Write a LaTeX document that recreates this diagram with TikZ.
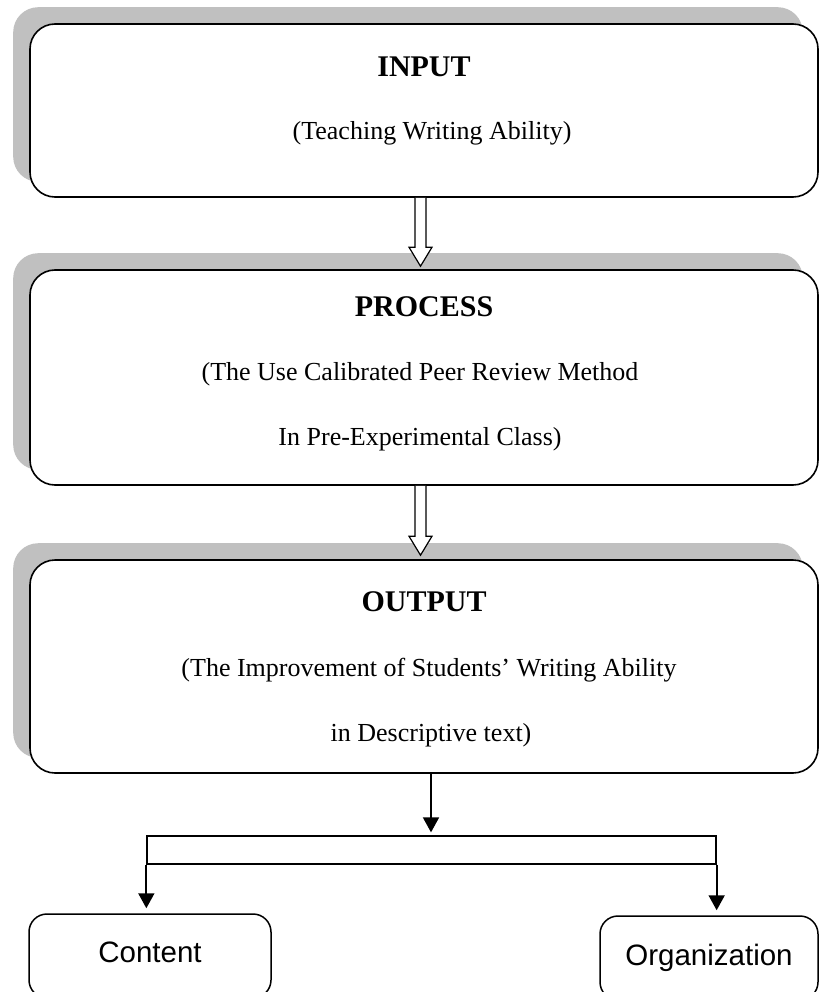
\documentclass[tikz,border=0pt]{standalone}
\usepackage{fontspec}
\setmainfont{Liberation Serif}
\newfontfamily\arialf{Liberation Sans}
\usetikzlibrary{arrows.meta,calc,backgrounds}
\definecolor{shadowgray}{HTML}{C0C0C0}
\begin{document}
\begin{tikzpicture}[x=1pt,y=1pt,
  box/.style={draw,line width=1.6pt,rounded corners=25pt,fill=white,inner sep=0pt},
  smallbox/.style={draw,line width=1.5pt,rounded corners=18pt,fill=white,inner sep=0pt},
  shade/.style={fill=shadowgray,rounded corners=25pt},
  txt/.style={font=\fontsize{26}{31}\selectfont,anchor=base,inner sep=0pt},
  hd/.style={font=\fontsize{30}{35}\selectfont\bfseries,anchor=base,inner sep=0pt},
  sans/.style={font=\arialf\fontsize{29.5}{35}\selectfont,anchor=base,inner sep=0pt},
  hollow/.style={draw,line width=1.2pt,fill=white,line join=miter},
  link/.style={line width=1.8pt,-{Triangle[length=15pt,width=16pt]}}
]
\useasboundingbox (0,0) rectangle (820,-992);
\clip (0,0) rectangle (820,-992);

\node[box,minimum width=788pt,minimum height=173pt] (in) at (424,-110.5) {};
\node[box,minimum width=788pt,minimum height=215pt] (pr) at (424,-377.5) {};
\node[box,minimum width=788pt,minimum height=213pt] (out) at (424,-666.5) {};
\node[smallbox,minimum width=242pt,minimum height=84pt] (con) at (150,-956) {};
\node[smallbox,minimum width=218pt,minimum height=84pt] (org) at (709,-958) {};
\node[draw,line width=1.3pt,minimum width=569pt,minimum height=28pt,inner sep=0pt] (br) at (431.5,-850) {};

\begin{pgfonlayer}{background}
  \fill[shade] ([shift={(-16pt,16pt)}]in.south west) rectangle ([shift={(-16pt,16pt)}]in.north east);
  \fill[shade] ([shift={(-16pt,16pt)}]pr.south west) rectangle ([shift={(-16pt,16pt)}]pr.north east);
  \fill[shade] ([shift={(-16pt,16pt)}]out.south west) rectangle ([shift={(-16pt,16pt)}]out.north east);
\end{pgfonlayer}

% texts
\node[hd] (inh) at (424,-77) {INPUT};
\node[txt] (int) at (432,-140) {(Teaching Writing Ability)};
\node[hd] (prh) at (424,-316) {PROCESS};
\node[txt] (prt1) at (420,-380) {(The Use Calibrated Peer Review Method};
\node[txt] (prt2) at (420,-445) {In Pre-Experimental Class)};
\node[hd] (outh) at (424,-611) {OUTPUT};
\node[txt] (outt1) at (429,-676) {(The Improvement of Students’ Writing Ability};
\node[txt] (outt2) at (431,-741) {in Descriptive text)};
\node[sans] (cont) at (150,-962) {Content};
\node[sans] (orgt) at (709,-965) {Organization};

% hollow arrows
\draw[hollow] let \p1=([xshift=-3.5pt]in.south), \p2=(pr.north) in
  (\x1-5.5pt,\y1) -- (\x1-5.5pt,\y2+22pt) -- (\x1-11.5pt,\y2+22pt) -- (\x1,\y2+3pt)
  -- (\x1+11.5pt,\y2+22pt) -- (\x1+5.5pt,\y2+22pt) -- (\x1+5.5pt,\y1);
\draw[hollow] let \p1=([xshift=-3.5pt]pr.south), \p2=(out.north) in
  (\x1-5.5pt,\y1) -- (\x1-5.5pt,\y2+23pt) -- (\x1-11.5pt,\y2+23pt) -- (\x1,\y2+4pt)
  -- (\x1+11.5pt,\y2+23pt) -- (\x1+5.5pt,\y2+23pt) -- (\x1+5.5pt,\y1);

% solid arrows
\draw[link,shorten >=3pt] ([xshift=7pt]out.south) -- ([xshift=7pt]out.south |- br.north);
\draw[link,shorten >=5pt] (br.south west) -- (br.south west |- con.north);
\draw[link,shorten >=5pt] (br.south east) -- (br.south east |- org.north);
\end{tikzpicture}
\end{document}
